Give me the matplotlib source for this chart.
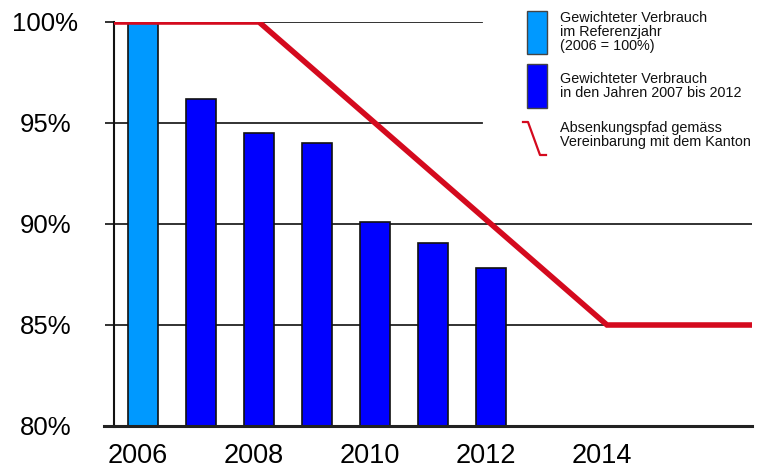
import matplotlib
matplotlib.use("Agg")
import matplotlib.pyplot as plt
from matplotlib.patches import Rectangle
from matplotlib.lines import Line2D

# data
years = [2006, 2007, 2008, 2009, 2010, 2011, 2012]
verbrauch = [100.0, 96.2, 94.5, 94.0, 90.1, 89.05, 87.8]
pfad_x = [2005.5, 2008, 2014, 2016.5]
pfad_y = [100, 100, 85, 85]
yticks = [80, 85, 90, 95, 100]
ylabels = ["80%", "85%", "90%", "95%", "100%"]
xticks = [2006, 2008, 2010, 2012, 2014]

hell = "#0099ff"
dunkel = "#0000ff"
rot = "#d40a1e"

plt.rcParams['font.family'] = ['Liberation Sans', 'DejaVu Sans']

W, H = 761, 471
fig = plt.figure(figsize=(W / 100, H / 100), dpi=100)
ax = fig.add_axes([114 / W, 1 - 426 / H, (752 - 114) / W, (426 - 22) / H])

# gridlines (upper two stop before the legend)
for y in yticks[1:]:
    xmax = 0.577 if y >= 95 else 1.0
    ax.axhline(y, xmin=0, xmax=xmax, color="#222222", lw=1.3, zorder=1)

colors = [hell] + [dunkel] * (len(years) - 1)
ax.bar(years, [v - 80 for v in verbrauch], bottom=80, width=0.53,
       color=colors, edgecolor="#111111", linewidth=1.2, zorder=2)

ax.plot(pfad_x, pfad_y, color=rot, lw=4.0, solid_capstyle="butt",
        solid_joinstyle="miter", zorder=3)

ax.set_xlim(2005.5, 2016.5)
ax.set_ylim(80, 100)
for s in ["top", "right"]:
    ax.spines[s].set_visible(False)
ax.spines["left"].set_linewidth(1.5)
ax.spines["left"].set_color("#111111")
ax.spines["bottom"].set_linewidth(2.2)
ax.spines["bottom"].set_color("#222222")
ax.spines["bottom"].set_bounds(2005.5, 2016.5)

ax.set_yticks(yticks)
ax.set_yticklabels(ylabels, fontsize=18.5, ha="center")
ax.tick_params(axis="y", length=6.5, width=1.3, color="#222222", pad=43)
ax.set_xticks([x - 0.09 for x in xticks])
ax.set_xticklabels([str(x) for x in xticks], fontsize=19.5)
ax.tick_params(axis="x", length=0, pad=12)

# extend the baseline left like a tick
ax.plot([-0.015, 0], [0, 0], transform=ax.transAxes, color="#222222",
        lw=2.2, clip_on=False)

# legend
def px(x, y):
    return (x / W, 1 - y / H)

fig.patches.append(Rectangle(px(527, 54), 20 / W, 43 / H, transform=fig.transFigure,
                             facecolor=hell, edgecolor="#444444", lw=1))
fig.patches.append(Rectangle(px(527, 108), 20 / W, 44 / H, transform=fig.transFigure,
                             facecolor=dunkel, edgecolor="#444444", lw=1))
lx = [523, 528, 540, 546]
ly = [122, 122, 155, 155]
fig.lines.append(Line2D([x / W for x in lx], [1 - y / H for y in ly],
                        transform=fig.transFigure, color=rot, lw=1.6))

leg_texts = [
    (11, "Gewichteter Verbrauch\nim Referenzjahr\n(2006 = 100%)"),
    (72, "Gewichteter Verbrauch\nin den Jahren 2007 bis 2012"),
    (121, "Absenkungspfad gemäss\nVereinbarung mit dem Kanton"),
]
for ty, t in leg_texts:
    fig.text(560 / W, 1 - ty / H, t, fontsize=10.4, va="top", ha="left",
             linespacing=1.0, color="#111111")

fig.savefig("out.png", dpi=100)
